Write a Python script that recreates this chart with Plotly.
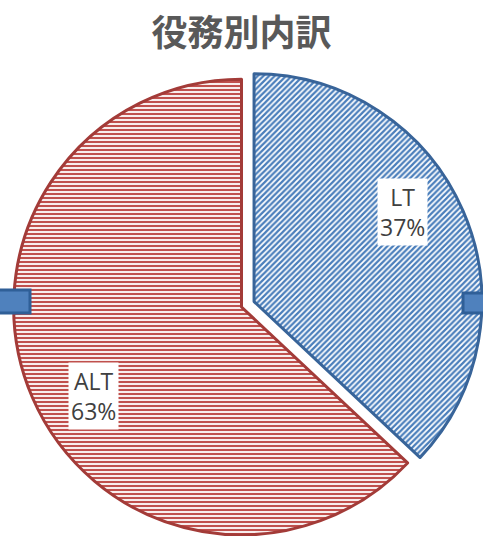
import math
import plotly.graph_objects as go

categories = ["LT", "ALT"]
values = [37, 63]
percent_labels = ["37%", "63%"]
title_text = "役務別内訳"

fill_colors = ["#4a7ebb", "#c0504d"]
line_colors = ["#386499", "#a33b38"]
pulls = [0.06, 0.0]
pattern_shapes = ["/", "-"]

W, H = 483, 560
M = dict(l=0, r=0, t=54, b=0)

fig = go.Figure(go.Pie(
    labels=categories,
    values=values,
    sort=False,
    direction="clockwise",
    rotation=0,
    pull=pulls,
    textinfo="none",
    hoverinfo="label+percent",
    showlegend=False,
    marker=dict(
        colors=["white", "white"],
        line=dict(color=line_colors, width=3),
        pattern=dict(shape=pattern_shapes, fgcolor=fill_colors, bgcolor="white",
                     size=4, solidity=0.55, fillmode="replace", fgopacity=1),
    ),
    domain=dict(x=[0, 1], y=[0, 1]),
))

pw, ph = W - M["l"] - M["r"], H - M["t"] - M["b"]


def px_to_paper(x, y):
    return (x - M["l"]) / pw, 1 - (y - M["t"]) / ph


# label annotations positioned from the data (mid-angle of each slice)
r_px = min(pw, ph) / 2 / (1 + max(pulls))
cx, cy = M["l"] + pw / 2, M["t"] + ph / 2
total = sum(values)
cum = 0
annotations = []
for cat, v, pct, pl in zip(categories, values, percent_labels, pulls):
    mid_true = (cum + v / 2) / total * 2 * math.pi
    cum += v
    mid = mid_true - math.radians(7.7)
    vx = cx + pl * r_px * math.sin(mid_true)
    vy = cy - pl * r_px * math.cos(mid_true)
    rr = r_px * 0.76
    px, py = px_to_paper(vx + rr * math.sin(mid), vy - rr * math.cos(mid))
    annotations.append(dict(
        x=px, y=py, xref="paper", yref="paper", xanchor="center", yanchor="middle",
        text=f"{cat}<br>{pct}", showarrow=False, bgcolor="white", borderpad=2,
        font=dict(size=23, color="#404040", family="Open Sans, Noto Sans CJK JP"),
        align="center",
    ))


def handle(x0, y0, x1, y1):
    a0, b0 = px_to_paper(x0, y1)
    a1, b1 = px_to_paper(x1, y0)
    return dict(type="rect", xref="paper", yref="paper", x0=a0, x1=a1, y0=b0, y1=b1,
                fillcolor="#4f81bd", line=dict(color="#2f5f97", width=3), layer="above")


fig.update_layout(
    width=W, height=H, margin=M,
    paper_bgcolor="white", plot_bgcolor="white",
    title=dict(text=f"<b>{title_text}</b>", x=0.5, xanchor="center", y=1 - 33 / H, yanchor="middle",
               font=dict(size=36, color="#595959", family="Noto Sans CJK JP")),
    annotations=annotations,
    shapes=[handle(-3, 290, 30, 313), handle(463, 293, 487, 313)],
)

fig.write_html(
    "out.html",
    config={"displayModeBar": False},
    post_script="document.body.style.margin='0';document.documentElement.style.overflow='hidden';document.body.style.overflow='hidden';",
)
